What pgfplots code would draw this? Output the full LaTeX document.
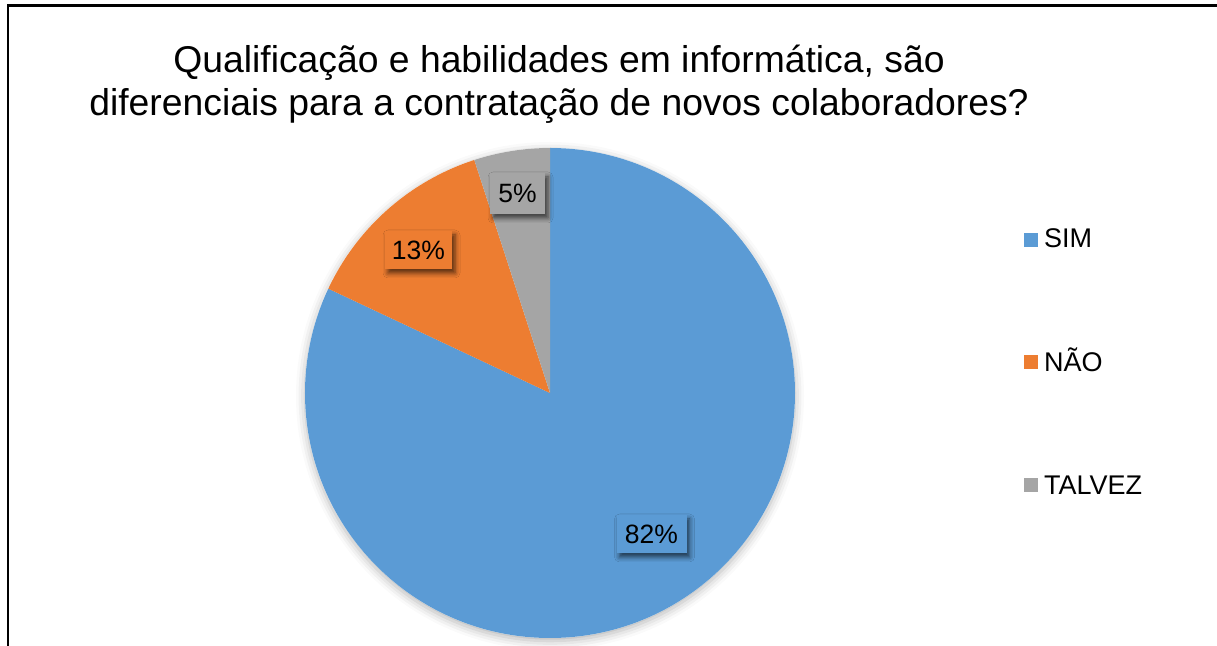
\documentclass[border=0pt]{standalone}
\usepackage{fontspec}
\setmainfont{Liberation Sans}
\usepackage{pgfplots}
\pgfplotsset{compat=1.18}
\usepackage{pgfplotstable}
\usetikzlibrary{shadows.blur}
\definecolor{cSim}{HTML}{5B9BD5}
\definecolor{cNao}{HTML}{ED7D31}
\definecolor{cTal}{HTML}{A5A5A5}
\pgfplotstableread{
label value
SIM 82
NAO 13
TALVEZ 5
}\piedata
\pgfplotstablegetelem{0}{value}\of\piedata \let\vA\pgfplotsretval
\pgfplotstablegetelem{1}{value}\of\piedata \let\vB\pgfplotsretval
\pgfplotstablegetelem{2}{value}\of\piedata \let\vC\pgfplotsretval
\pgfmathsetmacro\aA{90-3.6*\vA}
\pgfmathsetmacro\aB{\aA-3.6*\vB}
\pgfmathsetmacro\aC{\aB-3.6*\vC}
\begin{document}
\begin{tikzpicture}
\begin{axis}[scale only axis, width=1217bp, height=646bp,
  xmin=0, xmax=1217, ymin=0, ymax=646, hide axis, clip=false]
% pie shadow
\fill[white, blur shadow={shadow xshift=0bp, shadow yshift=-3bp, shadow blur radius=9bp, shadow opacity=30}] (axis cs:550,253) circle[radius=245bp];
\fill[cSim] (axis cs:550,253) -- ++(90:245bp) arc[start angle=90, end angle=\aA, radius=245bp] -- cycle;
\fill[cNao] (axis cs:550,253) -- ++(\aA:245bp) arc[start angle=\aA, end angle=\aB, radius=245bp] -- cycle;
\fill[cTal] (axis cs:550,253) -- ++(\aB:245bp) arc[start angle=\aB, end angle=\aC, radius=245bp] -- cycle;
% data labels
\tikzset{lbl/.style={inner sep=0pt, minimum width=#1, minimum height=38bp, font=\fontsize{26.5bp}{30bp}\selectfont,
  blur shadow={shadow xshift=3bp, shadow yshift=-4bp, shadow blur radius=5bp, shadow opacity=65}}}
\node[lbl=70bp, fill=cSim] at (axis cs:651.5,112) {82\%};
\node[lbl=67bp, fill=cNao] at (axis cs:418.5,396) {13\%};
\node[lbl=55bp, fill=cTal, minimum height=41bp] at (axis cs:517.5,452.5) {5\%};
% title
\node[anchor=base, font=\fontsize{37.3bp}{43bp}\selectfont] at (axis cs:559,646-73) {Qualificação e habilidades em informática, são};
\node[anchor=base, font=\fontsize{37.3bp}{43bp}\selectfont] at (axis cs:559,646-116) {diferenciais para a contratação de novos colaboradores?};
% legend
\fill[cSim] (axis cs:1024,646-233) rectangle (axis cs:1038,646-247);
\fill[cNao] (axis cs:1024,646-355) rectangle (axis cs:1038,646-369);
\fill[cTal] (axis cs:1024,646-478) rectangle (axis cs:1038,646-492);
\node[anchor=base west, inner sep=0pt, font=\fontsize{27bp}{30bp}\selectfont] at (axis cs:1044,646-248) {SIM};
\node[anchor=base west, inner sep=0pt, font=\fontsize{27bp}{30bp}\selectfont] at (axis cs:1044,646-372) {NÃO};
\node[anchor=base west, inner sep=0pt, font=\fontsize{27bp}{30bp}\selectfont] at (axis cs:1044,646-495) {TALVEZ};
% frame
\draw[line width=2.5bp] (axis cs:8,0) -- (axis cs:8,640.5) -- (axis cs:1217,640.5);
\end{axis}
\pgfresetboundingbox
\path[use as bounding box] (0,0) rectangle (1217bp,646bp);
\end{tikzpicture}
\end{document}
